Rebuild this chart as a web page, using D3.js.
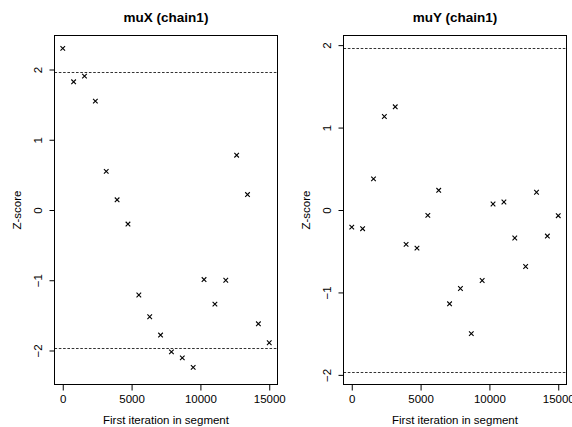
<!DOCTYPE html>
<html>
<head>
<meta charset="utf-8">
<script src="https://cdn.jsdelivr.net/npm/d3@7"></script>
<style>
html,body{margin:0;padding:0;background:#fff;}
svg{display:block;}
text{font-family:"Liberation Sans",Arial,Helvetica,sans-serif;fill:#000;}
</style>
</head>
<body>
<svg id="chart" width="572" height="427"></svg>
<script>
// Segment start iterations
const iterations = [0, 789, 1579, 2368, 3158, 3947, 4737, 5526, 6316, 7105,
                    7895, 8684, 9474, 10263, 11053, 11842, 12632, 13421, 14211, 15000];
// Z-scores
const muX = [2.30, 1.825, 1.905, 1.55, 0.55, 0.145, -0.20, -1.21, -1.52, -1.78,
             -2.02, -2.105, -2.24, -0.99, -1.34, -1.00, 0.78, 0.22, -1.62, -1.89];
const muY = [-0.207, -0.227, 0.377, 1.134, 1.252, -0.417, -0.462, -0.065, 0.239, -1.138,
             -0.952, -1.50, -0.855, 0.073, 0.097, -0.34, -0.685, 0.215, -0.316, -0.069];
const titles = ["muX (chain1)", "muY (chain1)"];
const xTicks = [0, 5000, 10000, 15000];
const yTicks = [-2, -1, 0, 1, 2];
const critical = 1.96;

(function () {
const svg = d3.select("#chart");
const panels = [
  {title: titles[0], values: muX, x0: 54, x1: 277},
  {title: titles[1], values: muY, x0: 343, x1: 566}
];
const boxTop = 35.5, boxBottom = 384.5;
const fmt = d => (d < 0 ? "\u2212" + Math.abs(d) : String(d));

panels.forEach(p => {
  const g = svg.append("g");
  const x = d3.scaleLinear().domain([-600, 15600]).range([p.x0 + 0.5, p.x1 + 0.5]);
  const ylim = Math.max(critical, d3.max(p.values, v => Math.abs(v))) * 1.08;
  const y = d3.scaleLinear().domain([-ylim, ylim]).range([boxBottom, boxTop]);

  [critical, -critical].forEach(c => {
    g.append("line")
      .attr("x1", p.x0 + 0.5).attr("x2", p.x1 + 0.5)
      .attr("y1", Math.round(y(c)) + 0.5).attr("y2", Math.round(y(c)) + 0.5)
      .attr("stroke", "#333").attr("stroke-width", 1)
      .attr("stroke-dasharray", "2.6,1.7");
  });

  const s = 2.3;
  const pts = g.selectAll("g.pt").data(p.values.map((v, i) => [iterations[i], v]))
    .enter().append("g")
    .attr("transform", d => `translate(${x(d[0])},${y(d[1])})`);
  pts.append("path")
    .attr("d", `M${-s},${-s}L${s},${s}M${-s},${s}L${s},${-s}`)
    .attr("stroke", "#000").attr("stroke-width", 1.1).attr("fill", "none");

  g.append("rect")
    .attr("x", p.x0 + 0.5).attr("y", boxTop)
    .attr("width", p.x1 - p.x0).attr("height", boxBottom - boxTop)
    .attr("fill", "none").attr("stroke", "#000").attr("stroke-width", 1);

  const xa = g.append("g").attr("transform", `translate(0,${boxBottom})`)
    .call(d3.axisBottom(x).tickValues(xTicks).tickSize(6).tickPadding(4.5).tickFormat(d => String(d)));
  xa.select(".domain").remove();
  xa.selectAll("text").attr("font-size", "11.5px")
    .attr("font-family", '"Liberation Sans",Arial,sans-serif').attr("fill", "#000");

  const ya = g.append("g").attr("transform", `translate(${p.x0 + 0.5},0)`)
    .call(d3.axisLeft(y).tickValues(yTicks).tickSize(5).tickFormat(fmt));
  ya.select(".domain").remove();
  ya.selectAll("text")
    .attr("font-size", "11.5px")
    .attr("font-family", '"Liberation Sans",Arial,sans-serif').attr("fill", "#000")
    .attr("text-anchor", "middle")
    .attr("x", null).attr("dy", null)
    .attr("transform", "translate(-8.5,0) rotate(-90)")
    .attr("y", -4);

  const cx = (p.x0 + p.x1) / 2 + 0.5;
  g.append("text").attr("x", cx).attr("y", 21.5)
    .attr("text-anchor", "middle").attr("font-size", "13.5px").attr("font-weight", "bold")
    .text(p.title);
  g.append("text").attr("x", cx).attr("y", 423.5)
    .attr("text-anchor", "middle").attr("font-size", "11.5px")
    .text("First iteration in segment");
  g.append("text")
    .attr("transform", `translate(${p.x0 - 33},${(boxTop + boxBottom) / 2}) rotate(-90)`)
    .attr("text-anchor", "middle").attr("font-size", "11.5px")
    .text("Z-score");
});
})();
</script>
</body>
</html>
